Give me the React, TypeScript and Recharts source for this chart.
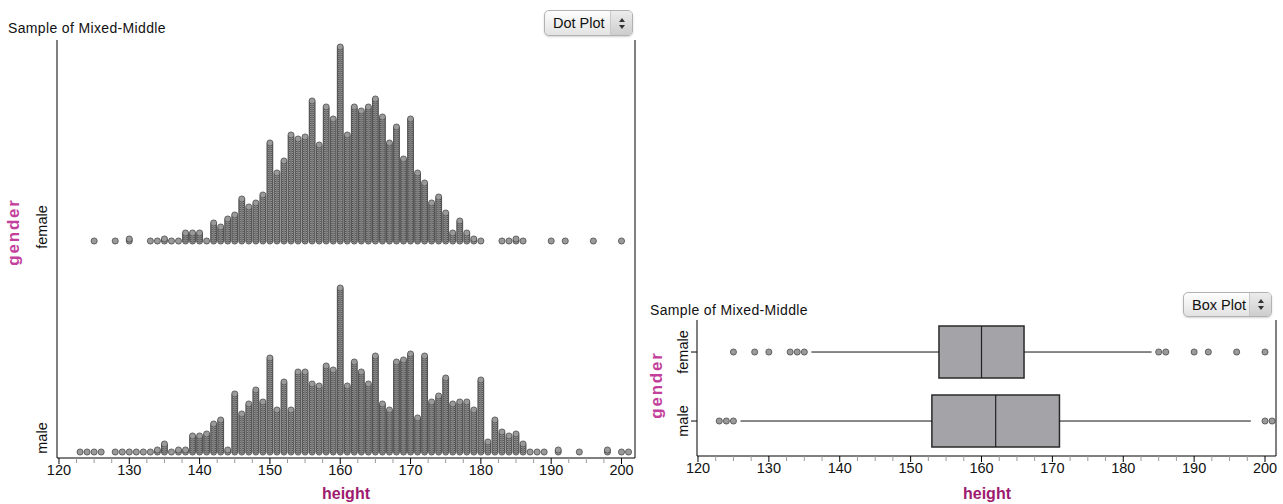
import React from 'react';
import {
  ScatterChart,
  Scatter,
  XAxis,
  YAxis,
  ReferenceLine,
  ReferenceArea,
} from 'recharts';

// ---------- data ----------
const femaleHeights = [125, 128, 130, 133, 134, 135, 136, 137, 138, 139, 140, 141, 142, 143, 144, 145, 146, 147, 148, 149, 150, 151, 152, 153, 154, 155, 156, 157, 158, 159, 160, 161, 162, 163, 164, 165, 166, 167, 168, 169, 170, 171, 172, 173, 174, 175, 176, 177, 178, 179, 180, 183, 184, 185, 186, 190, 192, 196, 200];
const femaleCounts = [1, 1, 2, 1, 1, 2, 1, 1, 5, 5, 5, 1, 10, 8, 12, 14, 22, 18, 20, 24, 50, 35, 41, 54, 52, 53, 71, 49, 68, 62, 98, 54, 68, 66, 68, 72, 63, 50, 58, 42, 62, 35, 30, 20, 23, 15, 5, 11, 5, 2, 1, 1, 1, 2, 1, 1, 1, 1, 1];

const maleHeights = [123, 124, 125, 126, 128, 129, 130, 131, 132, 133, 134, 135, 136, 137, 138, 139, 140, 141, 142, 143, 144, 145, 146, 147, 148, 149, 150, 151, 152, 153, 154, 155, 156, 157, 158, 159, 160, 161, 162, 163, 164, 165, 166, 167, 168, 169, 170, 171, 172, 173, 174, 175, 176, 177, 178, 179, 180, 181, 182, 183, 184, 185, 186, 187, 188, 189, 191, 194, 198, 200, 201];
const maleCounts = [1, 1, 1, 1, 1, 1, 1, 1, 1, 1, 2, 5, 1, 2, 2, 9, 9, 10, 15, 17, 2, 30, 20, 25, 32, 26, 48, 22, 36, 22, 41, 41, 35, 34, 44, 42, 83, 34, 46, 41, 35, 49, 25, 22, 46, 47, 50, 18, 49, 26, 29, 38, 25, 26, 26, 22, 37, 6, 17, 11, 9, 10, 5, 1, 1, 1, 2, 1, 2, 1, 1];

// box plot summary
const boxGroups = ['female', 'male'];
const boxRows = [1, 0];
const whiskerLow = [136, 126];
const quartile1 = [154, 153];
const medians = [160, 162];
const quartile3 = [166, 171];
const whiskerHigh = [184, 198];
const femaleOutliers = [125, 128, 130, 133, 134, 135, 185, 186, 190, 192, 196, 200];
const maleOutliers = [123, 124, 125, 200, 201];

const xTicks = Array.from({ length: 33 }, (_, i) => 120 + i * 2.5);

// ---------- derived tables ----------
const FEMALE_BASE = 105.5; // stack units between row baselines
const buildDots = (hs: number[], cs: number[], base: number) =>
  hs.flatMap((h, i) => Array.from({ length: cs[i] }, (_, k) => ({ h, s: base + k })));
const femaleDots = buildDots(femaleHeights, femaleCounts, FEMALE_BASE);
const maleDots = buildDots(maleHeights, maleCounts, 0);

const outlierPoints = [
  ...femaleOutliers.map((v) => ({ v, r: boxRows[0] })),
  ...maleOutliers.map((v) => ({ v, r: boxRows[1] })),
];

const FONT = '"Liberation Sans", Arial, Helvetica, sans-serif';
const DOT_FILL = '#9a9a9a';
const DOT_STROKE = '#2a2a2a';

const renderDot = (p: any) => (
  <circle cx={p.cx} cy={p.cy} r={3.1} fill={DOT_FILL} stroke={DOT_STROKE} strokeWidth={0.6} />
);

const XTick = (props: any) => {
  const { x, y, payload } = props;
  const v = payload.value;
  const major = Math.abs(v % 10) < 1e-6;
  return (
    <g>
      <line x1={x} y1={y} x2={x} y2={y + (major ? 6 : 5)} stroke={major ? '#000' : '#9a9a9a'} strokeWidth={1} />
      {major && (
        <text x={x} y={y + 17} textAnchor="middle" fontSize={14.5} fill="#111" fontFamily={FONT}>
          {v}
        </text>
      )}
    </g>
  );
};

const LeftCatTick = (props: any) => {
  const { x, y, payload } = props;
  const label = payload.value > 50 ? 'female' : 'male';
  const bx = x - 10;
  return (
    <text x={bx} y={y} transform={`rotate(-90 ${bx} ${y})`} textAnchor="middle" fontSize={14.5} fill="#111" fontFamily={FONT}>
      {label}
    </text>
  );
};

const RightCatTick = (props: any) => {
  const { x, y, payload } = props;
  const idx = boxRows.indexOf(payload.value);
  const label = boxGroups[idx];
  const bx = x - 3;
  return (
    <text x={bx} y={y} transform={`rotate(-90 ${bx} ${y})`} textAnchor="middle" fontSize={14.5} fill="#111" fontFamily={FONT}>
      {label}
    </text>
  );
};

const Dropdown = ({ label, left, top, width, height }: any) => (
  <div
    style={{
      position: 'absolute',
      left,
      top,
      width,
      height,
      boxSizing: 'border-box',
      border: '1px solid #b2b2b2',
      borderRadius: 5,
      background: 'linear-gradient(#fefefe, #e2e2e2)',
      fontFamily: FONT,
      fontSize: 14.5,
      color: '#111',
      display: 'flex',
      alignItems: 'center',
      boxShadow: '0 1px 2px rgba(0,0,0,0.18)',
      overflow: 'hidden',
    }}
  >
    <div style={{ flex: 1, paddingLeft: 8, whiteSpace: 'nowrap' }}>{label}</div>
    <div
      style={{
        width: 21,
        height: '100%',
        borderLeft: '1px solid #c8c8c8',
        background: 'linear-gradient(#ececec, #cdcdcd)',
        display: 'flex',
        alignItems: 'center',
        justifyContent: 'center',
      }}
    >
      <svg width="8" height="13">
        <path d="M4 1 L7 5 L1 5 Z" fill="#333" />
        <path d="M4 12 L7 8 L1 8 Z" fill="#333" />
      </svg>
    </div>
  </div>
);

const L_XMIN = 119.72;
const L_XMAX = 201.92;
const R_XMIN = 119.86;
const R_XMAX = 201.55;
const BOX_HALF = 0.377;

export default function App() {
  return (
    <div style={{ position: 'absolute', left: 0, top: 0, width: 1283, height: 504, background: '#fff', overflow: 'hidden' }}>
      {/* Left: dot plot */}
      <div style={{ position: 'absolute', left: 0, top: 0 }}>
        <ScatterChart width={650} height={504} margin={{ top: 40, right: 15, bottom: 16, left: 7 }}>
          <XAxis
            type="number"
            dataKey="h"
            domain={[L_XMIN, L_XMAX]}
            allowDataOverflow
            ticks={xTicks}
            interval={0}
            tickLine={false}
            tickSize={0}
            tickMargin={0}
            axisLine={{ stroke: '#000' }}
            tick={<XTick />}
            height={30}
          />
          <YAxis
            type="number"
            dataKey="s"
            domain={[-3, 206]}
            allowDataOverflow
            ticks={[7, FEMALE_BASE + 7]}
            interval={0}
            tickLine={false}
            tickSize={0}
            tickMargin={0}
            axisLine={{ stroke: '#000' }}
            tick={<LeftCatTick />}
            width={50}
          />
          <ReferenceLine x={L_XMAX} stroke="#000" ifOverflow="visible" />
          <Scatter data={femaleDots} isAnimationActive={false} shape={renderDot} />
          <Scatter data={maleDots} isAnimationActive={false} shape={renderDot} />
        </ScatterChart>
      </div>

      {/* Right: box plot */}
      <div style={{ position: 'absolute', left: 640, top: 0 }}>
        <ScatterChart width={643} height={504} margin={{ top: 320, right: 7, bottom: 18, left: 17 }}>
          <XAxis
            type="number"
            dataKey="v"
            domain={[R_XMIN, R_XMAX]}
            allowDataOverflow
            ticks={xTicks}
            interval={0}
            tickLine={false}
            tickSize={0}
            tickMargin={0}
            axisLine={{ stroke: '#000' }}
            tick={<XTick />}
            height={30}
          />
          <YAxis
            type="number"
            dataKey="r"
            domain={[-0.507, 1.464]}
            allowDataOverflow
            ticks={boxRows}
            interval={0}
            tickLine={{ stroke: '#000' }}
            tickSize={6}
            tickMargin={0}
            axisLine={{ stroke: '#000' }}
            tick={<RightCatTick />}
            width={40}
          />
          <ReferenceLine x={R_XMAX} stroke="#000" ifOverflow="visible" />
          {boxGroups.map((g, i) => (
            <ReferenceLine
              key={`wl-${g}`}
              segment={[
                { x: whiskerLow[i], y: boxRows[i] },
                { x: quartile1[i], y: boxRows[i] },
              ]}
              stroke="#111"
              strokeWidth={1}
            />
          ))}
          {boxGroups.map((g, i) => (
            <ReferenceLine
              key={`wh-${g}`}
              segment={[
                { x: quartile3[i], y: boxRows[i] },
                { x: whiskerHigh[i], y: boxRows[i] },
              ]}
              stroke="#111"
              strokeWidth={1}
            />
          ))}
          {boxGroups.map((g, i) => (
            <ReferenceArea
              key={`box-${g}`}
              x1={quartile1[i]}
              x2={quartile3[i]}
              y1={boxRows[i] - BOX_HALF}
              y2={boxRows[i] + BOX_HALF}
              fill="#a4a4a8"
              fillOpacity={1}
              stroke="#2a2a2a"
              strokeWidth={1.5}
            />
          ))}
          {boxGroups.map((g, i) => (
            <ReferenceLine
              key={`med-${g}`}
              segment={[
                { x: medians[i], y: boxRows[i] - BOX_HALF },
                { x: medians[i], y: boxRows[i] + BOX_HALF },
              ]}
              stroke="#222"
              strokeWidth={1.2}
            />
          ))}
          <Scatter data={outlierPoints} isAnimationActive={false} shape={renderDot} />
        </ScatterChart>
      </div>

      {/* Text overlay */}
      <svg width={1283} height={504} style={{ position: 'absolute', left: 0, top: 0, pointerEvents: 'none' }}>
        <text x={8} y={33} fontSize={14} fill="#111" fontFamily={FONT} letterSpacing={0.35}>
          Sample of Mixed-Middle
        </text>
        <text x={650} y={315} fontSize={14} fill="#111" fontFamily={FONT} letterSpacing={0.35}>
          Sample of Mixed-Middle
        </text>
        <text x={19} y={232} transform="rotate(-90 19 232)" textAnchor="middle" fontSize={17} fontWeight="bold" fill="#c2409b" fontFamily={FONT} letterSpacing={1.8}>
          gender
        </text>
        <text x={662} y={385} transform="rotate(-90 662 385)" textAnchor="middle" fontSize={17} fontWeight="bold" fill="#c2409b" fontFamily={FONT} letterSpacing={1.8}>
          gender
        </text>
        <text x={346} y={499} textAnchor="middle" fontSize={16} fontWeight="bold" fill="#9e1a6e" fontFamily={FONT}>
          height
        </text>
        <text x={987} y={499} textAnchor="middle" fontSize={16} fontWeight="bold" fill="#9e1a6e" fontFamily={FONT}>
          height
        </text>
      </svg>

      <Dropdown label="Dot Plot" left={544} top={10} width={89} height={26} />
      <Dropdown label="Box Plot" left={1183} top={292} width={89} height={25} />
    </div>
  );
}
